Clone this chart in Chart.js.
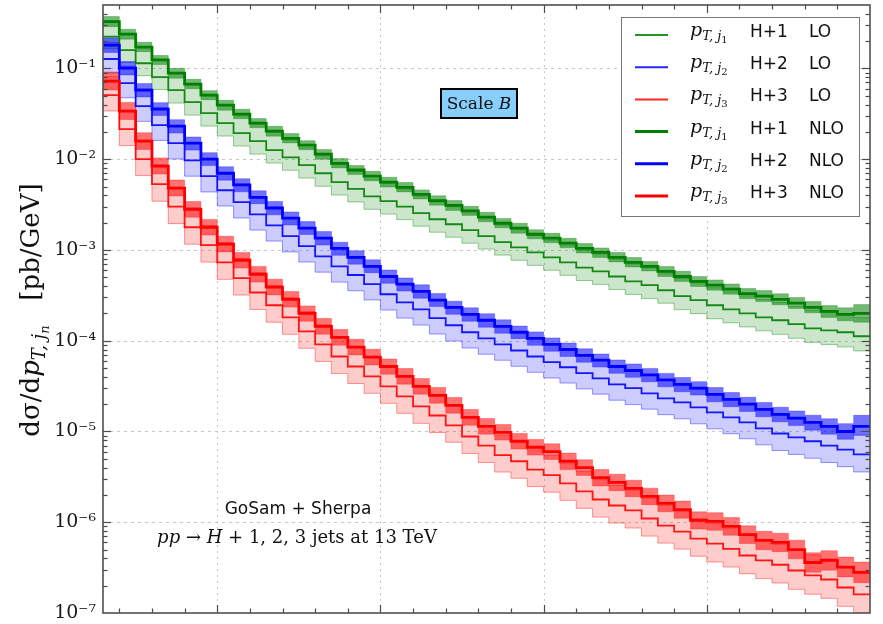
<!DOCTYPE html>
<html>
<head>
<meta charset="utf-8">
<title>Leading jet transverse momenta, H + 1, 2, 3 jets at 13 TeV</title>
<script src="https://cdn.jsdelivr.net/npm/chart.js@4.4.1/dist/chart.umd.min.js"></script>
<style>
  html, body { margin: 0; padding: 0; background: #ffffff; }
  canvas { display: block; }
</style>
</head>
<body>
<canvas id="chart" width="883" height="624"></canvas>
<script>
// Bin edges in GeV: 10 GeV bins from 30 to 500 GeV
const binEdges = [30,40,50,60,70,80,90,100,110,120,130,140,150,160,170,180,190,200,210,220,230,240,250,
  260,270,280,290,300,310,320,330,340,350,360,370,380,390,400,410,420,430,440,450,460,470,480,490,500];

// dσ/dpT [pb/GeV], central scale, one value per bin
const nloH1 = [0.328,0.239,0.172,0.124,0.0888,0.0672,0.0508,0.0394,0.0314,0.0250,0.0204,0.0170,0.0143,0.01135,
  9.0e-3,7.6e-3,6.5e-3,5.6e-3,4.9e-3,4.1e-3,3.5e-3,3.1e-3,2.7e-3,2.3e-3,1.97e-3,1.74e-3,1.49e-3,1.35e-3,1.19e-3,
  1.04e-3,9.4e-4,8.3e-4,7.3e-4,6.6e-4,5.8e-4,5.1e-4,4.5e-4,4.1e-4,3.7e-4,3.3e-4,3.1e-4,2.86e-4,2.6e-4,2.33e-4,
  2.1e-4,1.95e-4,2.0e-4];
const loH1 = [0.224,0.159,0.114,0.0802,0.0577,0.0425,0.0322,0.0250,0.0194,0.0158,0.0126,0.0105,8.6e-3,7.0e-3,
  5.6e-3,4.7e-3,3.9e-3,3.45e-3,3.0e-3,2.54e-3,2.18e-3,1.92e-3,1.65e-3,1.42e-3,1.22e-3,1.07e-3,9.4e-4,8.3e-4,7.3e-4,
  6.4e-4,5.8e-4,5.1e-4,4.5e-4,4.1e-4,3.6e-4,3.1e-4,2.8e-4,2.46e-4,2.22e-4,2.0e-4,1.81e-4,1.68e-4,1.52e-4,1.37e-4,
  1.30e-4,1.24e-4,1.12e-4];
const nloH2 = [0.181,0.101,0.0577,0.0356,0.0231,0.0150,0.0100,7.0e-3,5.2e-3,3.8e-3,2.9e-3,2.24e-3,1.74e-3,1.35e-3,
  1.04e-3,8.3e-4,6.6e-4,5.1e-4,4.2e-4,3.5e-4,2.8e-4,2.33e-4,1.95e-4,1.68e-4,1.44e-4,1.24e-4,1.06e-4,9.1e-5,8.0e-5,
  6.9e-5,6.1e-5,5.2e-5,4.7e-5,4.2e-5,3.7e-5,3.3e-5,3.0e-5,2.56e-5,2.26e-5,2.0e-5,1.75e-5,1.54e-5,1.40e-5,1.26e-5,
  1.14e-5,1.0e-5,1.14e-5];
const loH2 = [0.127,0.0689,0.0384,0.0237,0.0150,9.7e-3,6.5e-3,4.55e-3,3.36e-3,2.47e-3,1.87e-3,1.42e-3,1.10e-3,8.5e-4,
  6.6e-4,5.3e-4,4.2e-4,3.25e-4,2.65e-4,2.22e-4,1.77e-4,1.48e-4,1.24e-4,1.06e-4,9.1e-5,7.8e-5,6.7e-5,5.8e-5,5.1e-5,
  4.4e-5,3.85e-5,3.3e-5,3.0e-5,2.63e-5,2.32e-5,2.09e-5,1.84e-5,1.62e-5,1.43e-5,1.26e-5,1.08e-5,9.5e-6,8.6e-6,7.8e-6,
  7.0e-6,6.3e-6,5.6e-6];
const nloH3 = [0.0725,0.0338,0.0158,8.4e-3,4.8e-3,2.8e-3,1.78e-3,1.16e-3,7.7e-4,5.4e-4,3.9e-4,2.86e-4,2.0e-4,1.44e-4,
  1.09e-4,8.5e-5,6.6e-5,5.2e-5,4.05e-5,3.14e-5,2.5e-5,1.94e-5,1.43e-5,1.14e-5,9.8e-6,7.8e-6,6.7e-6,6.0e-6,4.7e-6,
  4.0e-6,3.1e-6,2.75e-6,2.36e-6,1.93e-6,1.61e-6,1.38e-6,1.05e-6,1.02e-6,9.0e-7,7.3e-7,6.3e-7,6.0e-7,5.0e-7,3.6e-7,
  3.8e-7,3.2e-7,2.8e-7];
const loH3 = [0.0508,0.0214,0.0100,5.3e-3,3.0e-3,1.78e-3,1.13e-3,7.3e-4,4.9e-4,3.4e-4,2.46e-4,1.81e-4,1.27e-4,9.1e-5,
  6.7e-5,5.2e-5,4.05e-5,3.14e-5,2.44e-5,1.89e-5,1.5e-5,1.17e-5,8.8e-6,7.0e-6,5.5e-6,4.7e-6,3.8e-6,3.3e-6,2.68e-6,
  2.19e-6,1.78e-6,1.53e-6,1.35e-6,1.10e-6,9.2e-7,7.9e-7,6.6e-7,5.8e-7,5.1e-7,4.3e-7,3.8e-7,3.4e-7,2.94e-7,2.6e-7,
  2.34e-7,1.91e-7,1.6e-7];

// Scale-variation envelopes, percent above / below the central value in each bin
const nloH1Up = [14,13,13,12,13,13,12,13,13,12,13,13,12,13,13,12,13,13,13,12,13,13,12,13,13,13,12,13,13,13,12,13,13,13,13,14,13,14,14,14,15,15,15,16,16,18,25];
const nloH1Dn = [12,12,11,11,12,11,11,12,11,11,12,11,11,12,11,11,11,12,11,11,11,12,11,11,11,12,11,11,11,11,12,11,11,11,12,12,12,12,12,12,13,13,13,13,14,15,20];
const loH1Up  = [50,52,53,54,55,55,55,56,55,55,56,55,55,56,55,55,55,56,55,55,55,56,55,55,55,56,55,55,55,56,55,55,56,55,55,56,55,56,56,56,57,57,57,58,58,59,60];
const loH1Dn  = [26,27,27,27,28,28,28,28,28,28,28,28,28,28,28,28,28,28,28,28,28,28,28,28,28,28,28,28,28,28,28,28,28,29,28,29,29,29,29,29,29,30,30,30,30,31,31];
const nloH2Up = [20,18,18,18,18,17,18,18,17,18,18,17,18,18,17,18,18,18,17,18,18,17,18,18,18,17,18,18,18,18,17,18,18,18,18,19,18,19,19,19,19,20,20,20,21,22,32];
const nloH2Dn = [17,16,16,15,16,16,15,16,16,15,16,16,15,16,16,16,15,16,16,16,15,16,16,16,16,15,16,16,16,16,16,16,16,16,16,17,16,17,17,17,17,17,17,18,18,18,20];
const loH2Up  = [52,54,55,56,56,57,57,57,58,57,58,58,57,58,58,58,57,58,58,58,58,57,58,58,58,58,58,57,58,58,58,58,58,58,59,58,59,59,59,60,60,60,60,61,61,62,62];
const loH2Dn  = [30,31,32,32,33,33,33,33,33,33,33,33,33,33,33,33,33,33,33,33,33,33,33,33,33,33,33,33,33,33,33,33,34,33,34,34,34,34,34,34,34,35,35,35,35,35,36];
const nloH3Up = [26,25,24,23,23,22,22,22,22,22,22,22,21,22,22,22,22,21,22,22,22,22,22,22,22,22,22,22,23,22,23,23,23,23,24,24,24,25,25,25,26,26,27,28,28,29,30];
const nloH3Dn = [20,19,19,18,18,18,18,18,18,18,18,18,18,18,18,18,18,18,18,18,18,18,18,18,18,18,18,18,19,18,19,19,19,19,19,20,20,20,20,20,21,21,21,22,22,22,23];
const loH3Up  = [60,62,63,64,64,65,65,65,65,65,65,65,65,65,65,65,65,65,65,65,65,65,65,65,65,65,65,65,65,65,66,66,66,66,66,66,67,67,67,67,68,68,68,68,69,69,70];
const loH3Dn  = [33,34,34,35,35,35,35,35,35,35,35,35,35,35,35,35,35,35,35,35,35,35,35,35,35,35,35,35,35,35,36,36,36,36,36,36,36,37,37,37,37,37,38,38,38,38,38];

// Axis ticks
const yDecades = [1e-6, 1e-5, 1e-4, 1e-3, 1e-2, 1e-1];
const xMajorTicks = [100, 200, 300, 400];
const xMinorTicks = [40,60,80,120,140,160,180,220,240,260,280,320,340,360,380,420,440,460,480];

const processes = [
  { n: '1', rgb: '0,128,0',  lo: loH1, nlo: nloH1, loUp: loH1Up, loDn: loH1Dn, nloUp: nloH1Up, nloDn: nloH1Dn },
  { n: '2', rgb: '0,0,255',  lo: loH2, nlo: nloH2, loUp: loH2Up, loDn: loH2Dn, nloUp: nloH2Up, nloDn: nloH2Dn },
  { n: '3', rgb: '255,0,0',  lo: loH3, nlo: nloH3, loUp: loH3Up, loDn: loH3Dn, nloUp: nloH3Up, nloDn: nloH3Dn }
];

// One point per left bin edge plus the closing edge; stepped lines turn these into histograms
const stepPoints = vals => binEdges.map((x, i) => ({ x, y: vals[Math.min(i, vals.length - 1)] }));
const shifted = (vals, pct, sign) => vals.map((v, i) => v * (1 + sign * pct[i] / 100));

const common = { stepped: true, pointRadius: 0, pointHoverRadius: 0, borderJoinStyle: 'miter', borderCapStyle: 'butt', tension: 0 };
const datasets = [];
processes.forEach(p => {
  datasets.push({ ...common, label: `H+${p.n} LO band up`, data: stepPoints(shifted(p.lo, p.loUp, 1)),
    borderColor: `rgba(${p.rgb},0.4)`, borderWidth: 1, backgroundColor: `rgba(${p.rgb},0.2)`, fill: '+1', order: 3 });
  datasets.push({ ...common, label: `H+${p.n} LO band down`, data: stepPoints(shifted(p.lo, p.loDn, -1)),
    borderColor: `rgba(${p.rgb},0.4)`, borderWidth: 1, fill: false, order: 3 });
  datasets.push({ ...common, label: `H+${p.n} NLO band up`, data: stepPoints(shifted(p.nlo, p.nloUp, 1)),
    borderColor: `rgba(${p.rgb},0.3)`, borderWidth: 1, backgroundColor: `rgba(${p.rgb},0.55)`, fill: '+1', order: 2 });
  datasets.push({ ...common, label: `H+${p.n} NLO band down`, data: stepPoints(shifted(p.nlo, p.nloDn, -1)),
    borderColor: `rgba(${p.rgb},0.3)`, borderWidth: 1, fill: false, order: 2 });
  datasets.push({ ...common, label: `H+${p.n} LO`, data: stepPoints(p.lo),
    borderColor: `rgba(${p.rgb},0.9)`, borderWidth: 1.8, fill: false, order: 1 });
  datasets.push({ ...common, label: `H+${p.n} NLO`, data: stepPoints(p.nlo),
    borderColor: `rgb(${p.rgb})`, borderWidth: 2.8, fill: false, order: 0 });
});

const supChars = { '-': '\u207B', '0': '\u2070', '1': '\u00B9', '2': '\u00B2', '3': '\u00B3', '4': '\u2074',
  '5': '\u2075', '6': '\u2076', '7': '\u2077', '8': '\u2078', '9': '\u2079' };

// Draws a run of differently styled text pieces on one baseline
function drawRuns(ctx, runs, x, y, align) {
  let total = 0;
  runs.forEach(r => { ctx.font = r.font; r.w = ctx.measureText(r.t).width; total += r.w; });
  let cx = align === 'center' ? x - total / 2 : x;
  ctx.textAlign = 'left';
  ctx.textBaseline = 'alphabetic';
  runs.forEach(r => { ctx.font = r.font; ctx.fillText(r.t, cx, y + (r.dy || 0)); cx += r.w; });
  return total;
}

const SERIF = '"DejaVu Serif", "Liberation Serif", serif';
const SANS = '"DejaVu Sans", "Liberation Sans", sans-serif';

const axesDecor = {
  id: 'axesDecor',
  beforeDatasetsDraw(chart) {
    const { ctx, chartArea: a, scales: { x, y } } = chart;
    ctx.save();
    ctx.lineWidth = 1;
    ctx.strokeStyle = '#c6c6c6';
    ctx.setLineDash([3, 4]);
    yDecades.forEach(v => {
      const py = Math.round(y.getPixelForValue(v)) + 0.5;
      ctx.beginPath(); ctx.moveTo(a.left, py); ctx.lineTo(a.right, py); ctx.stroke();
    });
    ctx.setLineDash([2, 4]);
    xMajorTicks.forEach(v => {
      const px = Math.round(x.getPixelForValue(v)) + 0.5;
      ctx.beginPath(); ctx.moveTo(px, a.top); ctx.lineTo(px, a.bottom); ctx.stroke();
    });
    ctx.restore();
  },
  afterDatasetsDraw(chart) {
    const { ctx, chartArea: a, scales: { x, y } } = chart;
    ctx.save();
    ctx.setLineDash([]);
    ctx.strokeStyle = '#4a4a4a';
    ctx.lineWidth = 1.2;
    const seg = (x1, y1, x2, y2) => { ctx.beginPath(); ctx.moveTo(x1, y1); ctx.lineTo(x2, y2); ctx.stroke(); };
    for (let e = -7; e <= 0; e++) {
      for (let m = 1; m <= 9; m++) {
        const v = m * Math.pow(10, e);
        if (v <= y.min * 1.0001 || v >= y.max) continue;
        const py = Math.round(y.getPixelForValue(v)) + 0.5;
        const len = m === 1 ? 8 : 4.5;
        seg(a.left, py, a.left + len, py);
        seg(a.right, py, a.right - len, py);
      }
    }
    const xTick = (v, len) => {
      const px = Math.round(x.getPixelForValue(v)) + 0.5;
      seg(px, a.bottom, px, a.bottom - len);
      seg(px, a.top, px, a.top + len);
    };
    xMajorTicks.forEach(v => xTick(v, 8));
    xMinorTicks.forEach(v => xTick(v, 4.5));
    ctx.lineWidth = 1.6;
    ctx.strokeStyle = '#505050';
    ctx.strokeRect(a.left, a.top, a.right - a.left, a.bottom - a.top);
    ctx.restore();
  },
  afterDraw(chart) {
    const { ctx } = chart;
    ctx.save();
    ctx.fillStyle = '#111111';

    // y-axis title
    ctx.save();
    ctx.translate(30, 310);
    ctx.rotate(-Math.PI / 2);
    drawRuns(ctx, [
      { t: 'd\u03C3/d', font: `26px ${SERIF}` },
      { t: 'p', font: `italic 26px ${SERIF}` },
      { t: 'T, j', font: `italic 18px ${SERIF}`, dy: 6 },
      { t: 'n', font: `italic 13px ${SERIF}`, dy: 10 },
      { t: '   [pb/GeV]', font: `26px ${SERIF}` }
    ], 0, 9, 'center');
    ctx.restore();

    // "Scale B" label
    ctx.fillStyle = '#87cefa';
    ctx.fillRect(441, 89, 76, 29);
    ctx.lineWidth = 2;
    ctx.strokeStyle = '#000000';
    ctx.strokeRect(441, 89, 76, 29);
    ctx.fillStyle = '#111111';
    drawRuns(ctx, [
      { t: 'Scale ', font: `17px ${SERIF}` },
      { t: 'B', font: `italic 17px ${SERIF}` }
    ], 479, 109, 'center');

    // Legend
    const lx = 621, ly = 17, lw = 238, lh = 199;
    ctx.fillStyle = '#ffffff';
    ctx.fillRect(lx, ly, lw, lh);
    ctx.lineWidth = 1;
    ctx.strokeStyle = '#777777';
    ctx.strokeRect(lx + 0.5, ly + 0.5, lw, lh);
    const rows = [];
    processes.forEach(p => rows.push({ p, order: 'LO' }));
    processes.forEach(p => rows.push({ p, order: 'NLO' }));
    rows.forEach((r, i) => {
      const yy = 35 + 32.2 * i;
      ctx.strokeStyle = r.order === 'LO' ? `rgba(${r.p.rgb},0.85)` : `rgb(${r.p.rgb})`;
      ctx.lineWidth = r.order === 'LO' ? 2 : 3;
      ctx.beginPath(); ctx.moveTo(635, yy); ctx.lineTo(668, yy); ctx.stroke();
      ctx.fillStyle = '#111111';
      drawRuns(ctx, [
        { t: 'p', font: `italic 19px ${SERIF}` },
        { t: 'T, j', font: `italic 13px ${SERIF}`, dy: 4 },
        { t: r.p.n, font: `10px ${SERIF}`, dy: 7 }
      ], 690, yy + 1, 'left');
      ctx.font = `17px ${SANS}`;
      ctx.fillText(`H+${r.p.n}`, 750, yy + 2);
      ctx.fillText(r.order, 809, yy + 2);
    });

    // Process annotation
    ctx.fillStyle = '#111111';
    ctx.font = `17px ${SANS}`;
    ctx.textAlign = 'center';
    ctx.fillText('GoSam + Sherpa', 298, 514);
    drawRuns(ctx, [
      { t: 'pp', font: `italic 18px ${SERIF}` },
      { t: ' \u2192 ', font: `18px ${SERIF}` },
      { t: 'H', font: `italic 18px ${SERIF}` },
      { t: ' + 1, 2, 3 jets at 13 TeV', font: `18px ${SERIF}` }
    ], 297, 543, 'center');
    ctx.restore();
  }
};

new Chart(document.getElementById('chart'), {
  type: 'line',
  data: { datasets },
  options: {
    responsive: false,
    animation: false,
    devicePixelRatio: 1,
    layout: { padding: { top: 5, right: 13, left: 0, bottom: 0 } },
    plugins: { legend: { display: false }, tooltip: { enabled: false } },
    scales: {
      x: {
        type: 'linear', min: 30, max: 500,
        grid: { display: false, drawTicks: false }, border: { display: false },
        ticks: { display: false },
        afterFit: s => { s.height = 11; s.paddingLeft = 0; s.paddingRight = 0; }
      },
      y: {
        type: 'logarithmic', min: 1e-7, max: 0.5,
        grid: { display: false, drawTicks: false }, border: { display: false },
        ticks: {
          autoSkip: false, padding: 7, color: '#1a1a1a',
          font: { family: SERIF, size: 19 },
          callback: v => {
            const e = Math.log10(v);
            if (Math.abs(e - Math.round(e)) > 1e-6) return '';
            return '10' + String(Math.round(e)).split('').map(c => supChars[c]).join('');
          }
        },
        afterFit: s => { s.width = 103; s.paddingTop = 0; s.paddingBottom = 0; }
      }
    }
  },
  plugins: [axesDecor]
});
</script>
</body>
</html>
